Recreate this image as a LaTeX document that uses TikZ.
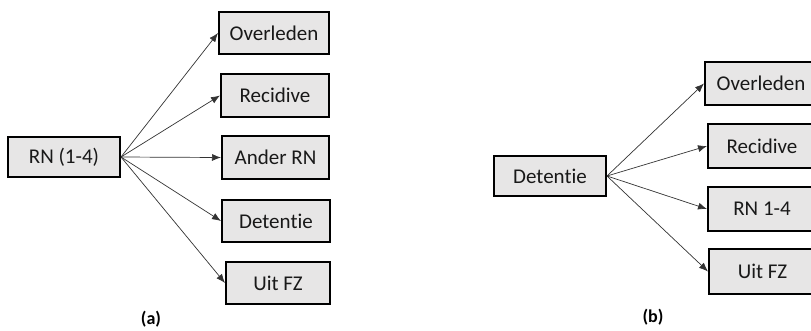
\documentclass[tikz,border=0pt]{standalone}
\usepackage{fontspec}
\setmainfont{Carlito}[Ligatures=NoCommon]
\usetikzlibrary{arrows.meta}
\definecolor{boxgray}{HTML}{E7E6E6}
\tikzset{
	statebox/.style={draw=black, fill=boxgray, line width=2pt, inner sep=0pt, text=black!90, font=\fontsize{21}{24}\selectfont},
	flow/.style={-{Latex[length=9pt,width=7pt]}, line width=0.7pt, color=black!80},
	caption/.style={inner sep=1pt, font=\fontsize{18}{20}\selectfont\bfseries}
}

\begin{document}
\begin{tikzpicture}[x=1pt, y=-1pt]
		%%%%% START %%%%%
		
		\useasboundingbox (0, 0) rectangle (811, 330);
		\clip (0, 0) rectangle (811, 330);
		
		% (a)
		\node[statebox, minimum width=112, minimum height=40] (rn) at (64, 157) {RN (1-4)};
		\node[statebox, minimum width=110, minimum height=42] (aover) at (274, 33) {Overleden};
		\node[statebox, minimum width=108, minimum height=43] (arec) at (275, 95.5) {Recidive};
		\node[statebox, minimum width=107, minimum height=43] (aander) at (275.5, 157.5) {Ander RN};
		\node[statebox, minimum width=108, minimum height=42] (adet) at (276, 221) {Detentie};
		\node[statebox, minimum width=104, minimum height=42] (auit) at (278, 283) {Uit FZ};
		
		\draw[flow] (rn.east) -- (aover.west);
		\draw[flow] (rn.east) -- (arec.west);
		\draw[flow] (rn.east) -- (aander.west);
		\draw[flow] (rn.east) -- (adet.west);
		\draw[flow] (rn.east) -- (auit.west);
		
		\node[caption] (capa) at (151, 319) {(a)};
		
		% (b)
		\node[statebox, minimum width=112, minimum height=40] (det) at (550, 176) {Detentie};
		\node[statebox, minimum width=112, minimum height=43, anchor=west] (bover) at (704, 83.5) {Overleden};
		\node[statebox, minimum width=108, minimum height=44, anchor=west] (brec) at (707, 146) {Recidive};
		\node[statebox, minimum width=108, minimum height=44, anchor=west] (brn) at (707, 209) {RN 1-4};
		\node[statebox, minimum width=107, minimum height=45, anchor=west] (buit) at (708, 271.5) {Uit FZ};
		
		\draw[flow] (det.east) -- (bover.west);
		\draw[flow] (det.east) -- (brec.west);
		\draw[flow] (det.east) -- (brn.west);
		\draw[flow] (det.east) -- (buit.west);
		
		\node[caption] (capb) at (653, 317) {(b)};
		
		%%%%% END %%%%%
	\end{tikzpicture}
\end{document}
